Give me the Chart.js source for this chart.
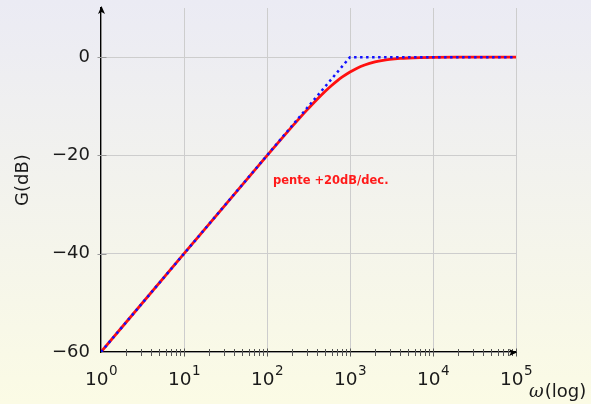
<!DOCTYPE html>
<html>
<head>
<meta charset="utf-8">
<script src="https://cdn.jsdelivr.net/npm/chart.js@4/dist/chart.umd.min.js"></script>
<style>
  html, body { margin: 0; padding: 0; }
  #wrap { width: 591px; height: 404px; }
</style>
</head>
<body>
<div id="wrap"><canvas id="bodeChart"></canvas></div>
<script>
var omega = [1, 10, 100, 150, 200, 250, 300, 400, 500, 600, 700, 800, 1000, 1200, 1500, 2000, 2500, 3000, 4000, 5000, 7000, 10000, 20000, 100000]
var gainReel = [-60, -40, -20.04, -16.58, -14.15, -12.3, -10.83, -8.6, -6.99, -5.77, -4.83, -4.08, -3.01, -2.29, -1.6, -0.97, -0.64, -0.46, -0.26, -0.17, -0.09, -0.04, -0.01, 0]
// asymptotes (pointillés bleus)
var omegaAsym = [1, 1000, 100000]
var gainAsym = [-60, 0, 0]
// graduations
var yTicks = [-60, -40, -20, 0]
var xDecades = [1, 10, 100, 1000, 10000, 100000]
var xExponents = ['0', '1', '2', '3', '4', '5']
var annotation = { text: 'pente +20dB/dec.', omega: 118, gain: -25.2 }

var FONT = '"DejaVu Sans", sans-serif'

function toPoints(xs, ys) {
    var pts = []
    for (var i = 0; i < xs.length; i++) pts.push({ x: xs[i], y: ys[i] })
    return pts
}

var bodeDecor = {
    id: 'bodeDecor',
    beforeDraw: function (chart) {
        var ctx = chart.ctx
        var g = ctx.createLinearGradient(0, 0, 0, chart.height)
        g.addColorStop(0, '#ebebf4')
        g.addColorStop(1, '#fbfbe5')
        ctx.save()
        ctx.fillStyle = g
        ctx.fillRect(0, 0, chart.width, chart.height)
        ctx.restore()
    },
    afterDraw: function (chart) {
        var ctx = chart.ctx
        var xs = chart.scales.x, ys = chart.scales.y
        var area = chart.chartArea
        var x0 = Math.round(area.left) + 0.5, yb = Math.round(area.bottom) + 0.5
        ctx.save()

        // petites graduations sur l'axe des pulsations
        ctx.strokeStyle = '#555'
        ctx.lineWidth = 1
        ctx.beginPath()
        for (var d = 0; d < xDecades.length - 1; d++) {
            for (var k = 2; k <= 9; k++) {
                var px = Math.round(xs.getPixelForValue(k * xDecades[d])) + 0.5
                ctx.moveTo(px, yb - 3.5); ctx.lineTo(px, yb + 3.5)
            }
        }
        for (var d2 = 1; d2 < xDecades.length; d2++) {
            var pxd = Math.round(xs.getPixelForValue(xDecades[d2])) + 0.5
            ctx.moveTo(pxd, yb - 4); ctx.lineTo(pxd, yb + 4)
        }
        ctx.stroke()

        // graduations de l'axe G
        ctx.strokeStyle = '#999'
        ctx.beginPath()
        for (var t = 1; t < yTicks.length; t++) {
            var py = Math.round(ys.getPixelForValue(yTicks[t])) + 0.5
            ctx.moveTo(x0 - 4, py); ctx.lineTo(x0 + 5, py)
        }
        ctx.stroke()

        // flèches
        ctx.fillStyle = '#000'
        ctx.beginPath()
        ctx.moveTo(x0, area.top - 2)
        ctx.lineTo(x0 - 3.5, area.top + 6)
        ctx.lineTo(x0, area.top + 4)
        ctx.lineTo(x0 + 3.5, area.top + 6)
        ctx.closePath()
        ctx.fill()
        ctx.beginPath()
        ctx.moveTo(area.right + 1, yb)
        ctx.lineTo(area.right - 7, yb - 3.5)
        ctx.lineTo(area.right - 5, yb)
        ctx.lineTo(area.right - 7, yb + 3.5)
        ctx.closePath()
        ctx.fill()

        // étiquettes 10^n
        ctx.fillStyle = '#1a1a1a'
        ctx.textBaseline = 'alphabetic'
        ctx.textAlign = 'left'
        for (var i = 0; i < xDecades.length; i++) {
            var cx = xs.getPixelForValue(xDecades[i])
            ctx.font = '18.5px ' + FONT
            var wb = ctx.measureText('10').width
            ctx.font = '13.5px ' + FONT
            var we = ctx.measureText(xExponents[i]).width
            var left = cx - (wb + we) / 2
            ctx.font = '18.5px ' + FONT
            ctx.fillText('10', left, area.bottom + 33)
            ctx.font = '13.5px ' + FONT
            ctx.fillText(xExponents[i], left + wb + 0.5, area.bottom + 23)
        }

        // titre de l'axe horizontal
        ctx.font = 'italic 18px "DejaVu Serif", serif'
        ctx.fillText('ω', area.right + 13, area.bottom + 45)
        var wo = ctx.measureText('ω').width
        ctx.font = '18px ' + FONT
        ctx.fillText('(log)', area.right + 13 + wo + 1, area.bottom + 45)

        // annotation
        ctx.fillStyle = '#ff1a1a'
        ctx.font = 'bold 11.5px ' + FONT
        ctx.textBaseline = 'middle'
        ctx.fillText(annotation.text, xs.getPixelForValue(annotation.omega), ys.getPixelForValue(annotation.gain))
        ctx.restore()
    }
}

var config_Bode = {
    type: 'line',
    data: {
        datasets: [
            {
                label: 'asymptotes',
                data: toPoints(omegaAsym, gainAsym),
                borderColor: '#1010ff',
                borderWidth: 2.5,
                borderDash: [2.5, 3.5],
                pointRadius: 0,
                fill: false,
                order: 0
            },
            {
                label: 'G réel',
                data: toPoints(omega, gainReel),
                borderColor: '#ff1010',
                borderWidth: 2.8,
                pointRadius: 0,
                cubicInterpolationMode: 'monotone',
                fill: false,
                order: 1
            }
        ]
    },
    options: {
        responsive: true,
        maintainAspectRatio: false,
        animation: false,
        layout: { padding: { top: 8, right: 75, left: 0, bottom: 0 } },
        plugins: {
            legend: { display: false },
            tooltip: { enabled: false }
        },
        scales: {
            x: {
                type: 'logarithmic',
                min: 1,
                max: 100000,
                afterBuildTicks: function (scale) {
                    scale.ticks = xDecades.map(function (v) { return { value: v } })
                },
                afterFit: function (scale) {
                    scale.height = 52
                    scale.paddingLeft = 0
                    scale.paddingRight = 0
                },
                ticks: { display: false },
                grid: { color: '#cdcdcd', lineWidth: 1, drawTicks: false },
                border: { color: '#000', width: 1.3 }
            },
            y: {
                type: 'linear',
                min: -60,
                max: 10,
                afterBuildTicks: function (scale) {
                    scale.ticks = yTicks.map(function (v) { return { value: v } })
                },
                afterFit: function (scale) {
                    scale.width = 101
                    scale.paddingTop = 0
                    scale.paddingBottom = 0
                },
                ticks: {
                    padding: 11,
                    color: '#1a1a1a',
                    font: { family: FONT, size: 18 },
                    callback: function (v) { return v < 0 ? '\u2212' + Math.abs(v) : String(v) }
                },
                title: {
                    display: true,
                    text: 'G(dB)',
                    color: '#1a1a1a',
                    font: { family: FONT, size: 18 },
                    padding: { top: 13, bottom: 0 }
                },
                grid: { color: '#cdcdcd', lineWidth: 1, drawTicks: false },
                border: { color: '#000', width: 1.3 }
            }
        }
    },
    plugins: [bodeDecor]
}

var BodeChartElement = document.getElementById('bodeChart').getContext('2d')
new Chart(BodeChartElement, config_Bode)
</script>
</body>
</html>
